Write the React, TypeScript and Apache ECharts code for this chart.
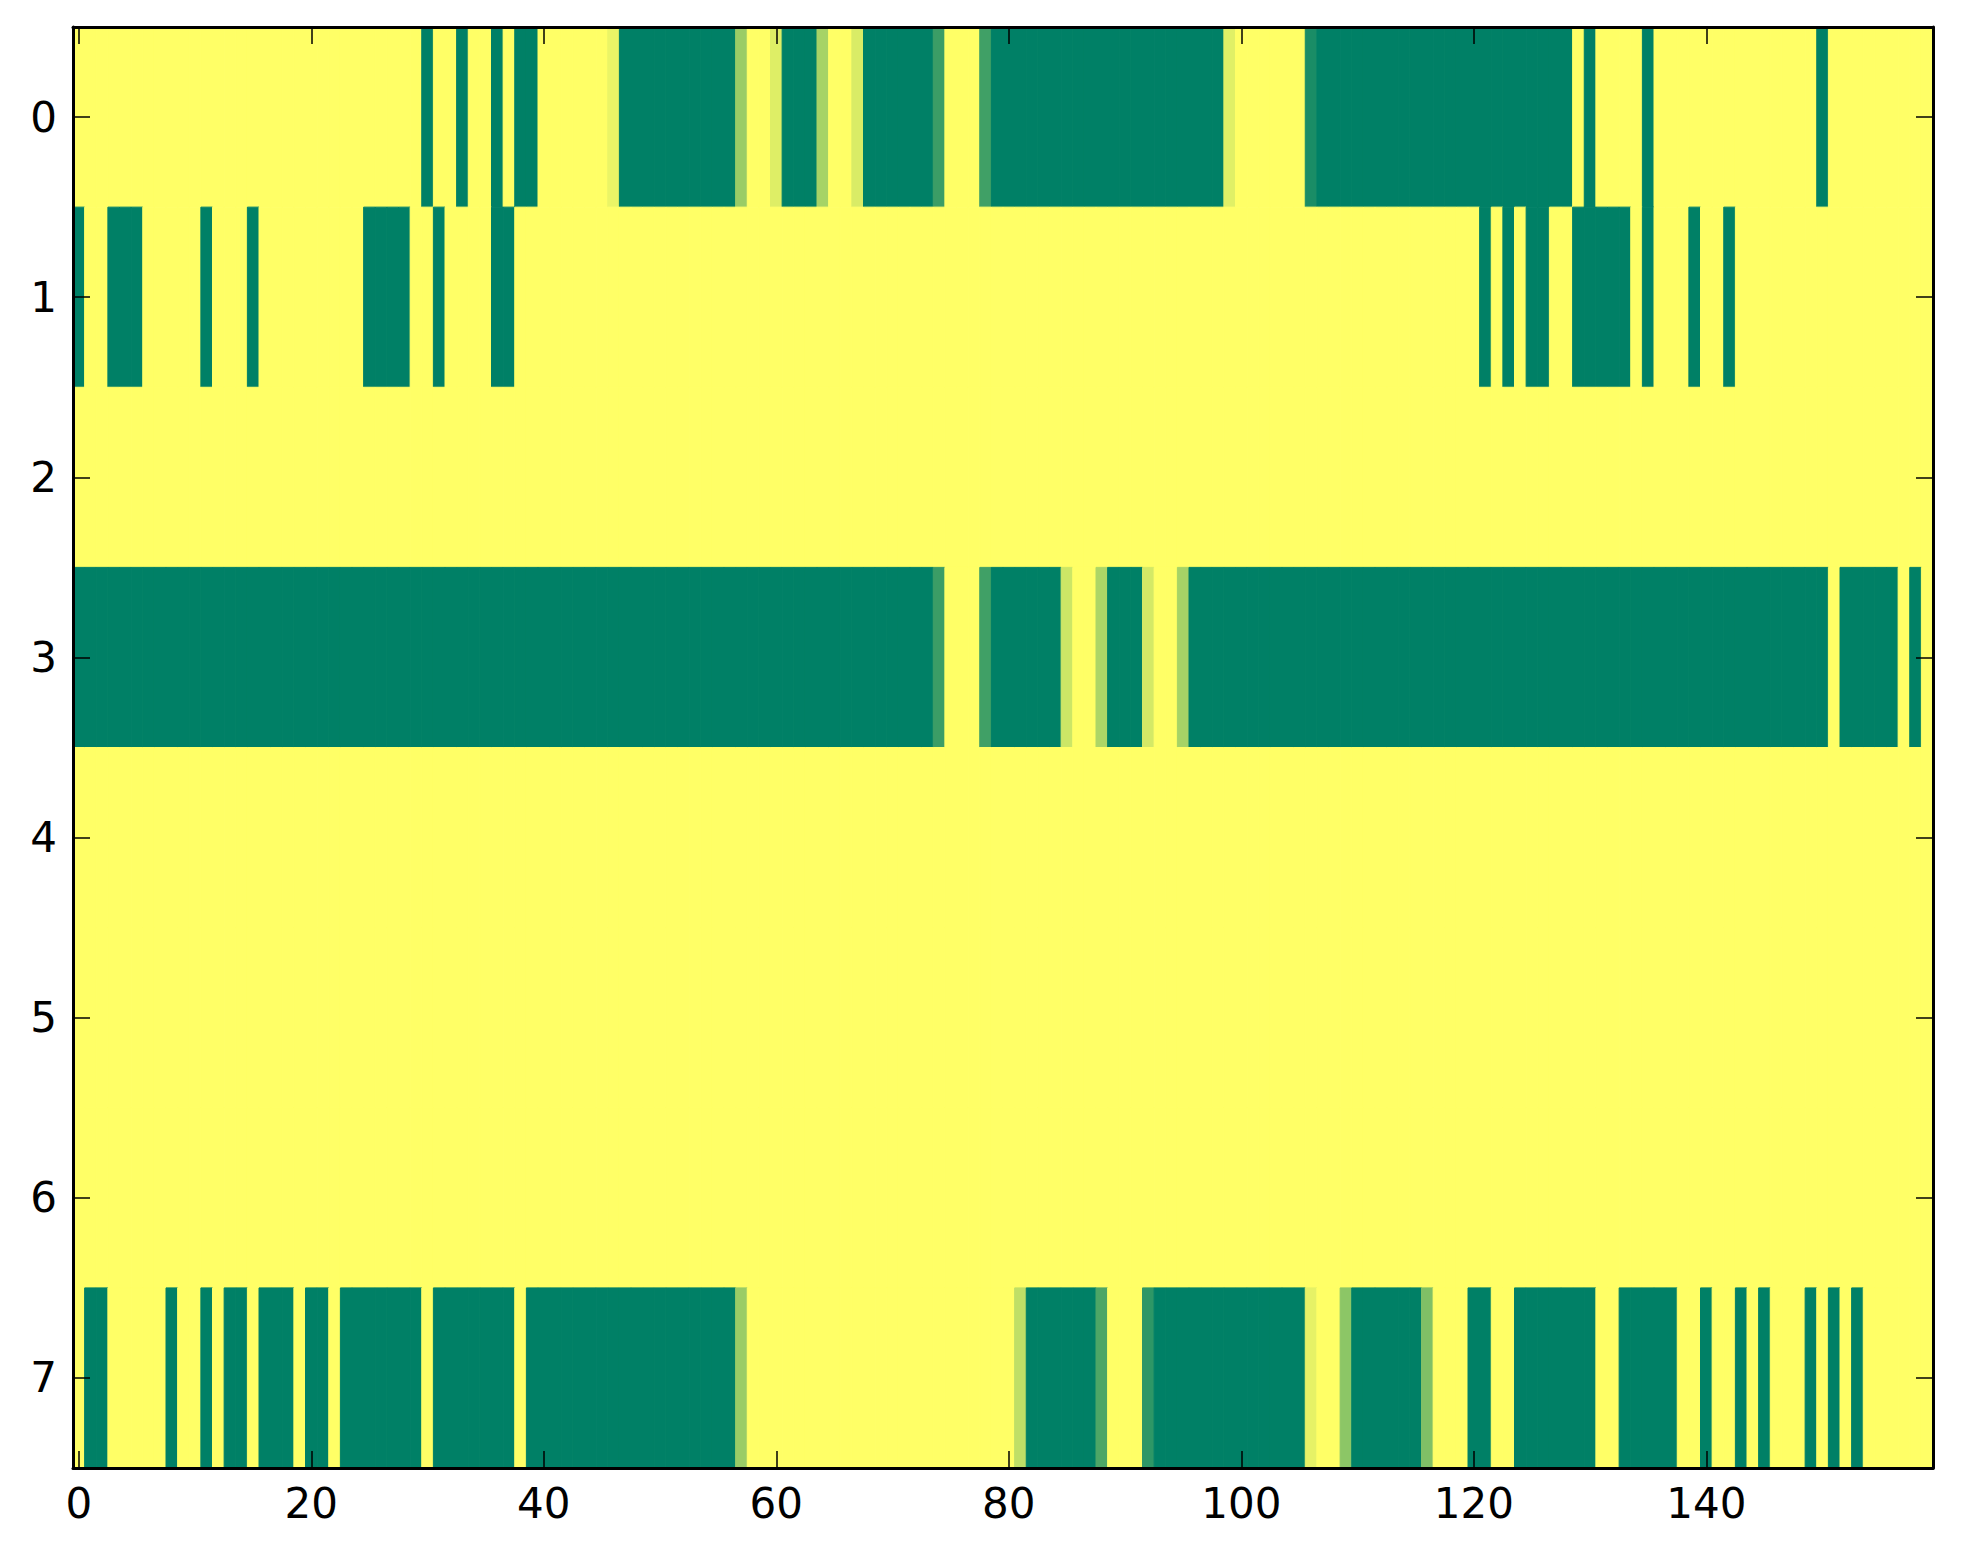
import React, { useEffect, useRef } from "react";
import * as echarts from "echarts";

const X_CATEGORIES: string[] = Array.from({ length: 160 }, (_, i) => String(i));
const Y_CATEGORIES: string[] = ["0", "1", "2", "3", "4", "5", "6", "7"];

const ROW_0: number[] = [
  0, 0, 0, 0, 0, 0, 0, 0, 0, 0, 0, 0, 0, 0, 0, 0, 0, 0, 0, 0,
  0, 0, 0, 0, 0, 0, 0, 0, 0, 0, 1, 0, 0, 1, 0, 0, 1, 0, 1, 1,
  0, 0, 0, 0, 0, 0, 0.08, 1, 1, 1, 1, 1, 1, 1, 1, 1, 1, 0.4, 0, 0,
  0.13, 1, 1, 1, 0.35, 0, 0, 0.15, 1, 1, 1, 1, 1, 1, 0.77, 0, 0, 0, 0.75, 1,
  1, 1, 1, 1, 1, 1, 1, 1, 1, 1, 1, 1, 1, 1, 1, 1, 1, 1, 1, 0.12,
  0, 0, 0, 0, 0, 0, 0.9, 1, 1, 1, 1, 1, 1, 1, 1, 1, 1, 1, 1, 1,
  1, 1, 1, 1, 1, 1, 1, 1, 1, 0, 1, 0, 0, 0, 0, 1, 0, 0, 0, 0,
  0, 0, 0, 0, 0, 0, 0, 0, 0, 0, 1, 0, 0, 0, 0, 0, 0, 0, 0, 0,
];

const ROW_1: number[] = [
  1, 0, 0, 1, 1, 1, 0, 0, 0, 0, 0, 1, 0, 0, 0, 1, 0, 0, 0, 0,
  0, 0, 0, 0, 0, 1, 1, 1, 1, 0, 0, 1, 0, 0, 0, 0, 1, 1, 0, 0,
  0, 0, 0, 0, 0, 0, 0, 0, 0, 0, 0, 0, 0, 0, 0, 0, 0, 0, 0, 0,
  0, 0, 0, 0, 0, 0, 0, 0, 0, 0, 0, 0, 0, 0, 0, 0, 0, 0, 0, 0,
  0, 0, 0, 0, 0, 0, 0, 0, 0, 0, 0, 0, 0, 0, 0, 0, 0, 0, 0, 0,
  0, 0, 0, 0, 0, 0, 0, 0, 0, 0, 0, 0, 0, 0, 0, 0, 0, 0, 0, 0,
  0, 1, 0, 1, 0, 1, 1, 0, 0, 1, 1, 1, 1, 1, 0, 1, 0, 0, 0, 1,
  0, 0, 1, 0, 0, 0, 0, 0, 0, 0, 0, 0, 0, 0, 0, 0, 0, 0, 0, 0,
];

const ROW_2: number[] = [
  0, 0, 0, 0, 0, 0, 0, 0, 0, 0, 0, 0, 0, 0, 0, 0, 0, 0, 0, 0,
  0, 0, 0, 0, 0, 0, 0, 0, 0, 0, 0, 0, 0, 0, 0, 0, 0, 0, 0, 0,
  0, 0, 0, 0, 0, 0, 0, 0, 0, 0, 0, 0, 0, 0, 0, 0, 0, 0, 0, 0,
  0, 0, 0, 0, 0, 0, 0, 0, 0, 0, 0, 0, 0, 0, 0, 0, 0, 0, 0, 0,
  0, 0, 0, 0, 0, 0, 0, 0, 0, 0, 0, 0, 0, 0, 0, 0, 0, 0, 0, 0,
  0, 0, 0, 0, 0, 0, 0, 0, 0, 0, 0, 0, 0, 0, 0, 0, 0, 0, 0, 0,
  0, 0, 0, 0, 0, 0, 0, 0, 0, 0, 0, 0, 0, 0, 0, 0, 0, 0, 0, 0,
  0, 0, 0, 0, 0, 0, 0, 0, 0, 0, 0, 0, 0, 0, 0, 0, 0, 0, 0, 0,
];

const ROW_3: number[] = [
  1, 1, 1, 1, 1, 1, 1, 1, 1, 1, 1, 1, 1, 1, 1, 1, 1, 1, 1, 1,
  1, 1, 1, 1, 1, 1, 1, 1, 1, 1, 1, 1, 1, 1, 1, 1, 1, 1, 1, 1,
  1, 1, 1, 1, 1, 1, 1, 1, 1, 1, 1, 1, 1, 1, 1, 1, 1, 1, 1, 1,
  1, 1, 1, 1, 1, 1, 1, 1, 1, 1, 1, 1, 1, 1, 0.77, 0, 0, 0, 0.75, 1,
  1, 1, 1, 1, 1, 0.2, 0, 0, 0.32, 1, 1, 1, 0.17, 0, 0, 0.35, 1, 1, 1, 1,
  1, 1, 1, 1, 1, 1, 1, 1, 1, 1, 1, 1, 1, 1, 1, 1, 1, 1, 1, 1,
  1, 1, 1, 1, 1, 1, 1, 1, 1, 1, 1, 1, 1, 1, 1, 1, 1, 1, 1, 1,
  1, 1, 1, 1, 1, 1, 1, 1, 1, 1, 1, 0, 1, 1, 1, 1, 1, 0, 1, 0,
];

const ROW_4: number[] = [
  0, 0, 0, 0, 0, 0, 0, 0, 0, 0, 0, 0, 0, 0, 0, 0, 0, 0, 0, 0,
  0, 0, 0, 0, 0, 0, 0, 0, 0, 0, 0, 0, 0, 0, 0, 0, 0, 0, 0, 0,
  0, 0, 0, 0, 0, 0, 0, 0, 0, 0, 0, 0, 0, 0, 0, 0, 0, 0, 0, 0,
  0, 0, 0, 0, 0, 0, 0, 0, 0, 0, 0, 0, 0, 0, 0, 0, 0, 0, 0, 0,
  0, 0, 0, 0, 0, 0, 0, 0, 0, 0, 0, 0, 0, 0, 0, 0, 0, 0, 0, 0,
  0, 0, 0, 0, 0, 0, 0, 0, 0, 0, 0, 0, 0, 0, 0, 0, 0, 0, 0, 0,
  0, 0, 0, 0, 0, 0, 0, 0, 0, 0, 0, 0, 0, 0, 0, 0, 0, 0, 0, 0,
  0, 0, 0, 0, 0, 0, 0, 0, 0, 0, 0, 0, 0, 0, 0, 0, 0, 0, 0, 0,
];

const ROW_5: number[] = [
  0, 0, 0, 0, 0, 0, 0, 0, 0, 0, 0, 0, 0, 0, 0, 0, 0, 0, 0, 0,
  0, 0, 0, 0, 0, 0, 0, 0, 0, 0, 0, 0, 0, 0, 0, 0, 0, 0, 0, 0,
  0, 0, 0, 0, 0, 0, 0, 0, 0, 0, 0, 0, 0, 0, 0, 0, 0, 0, 0, 0,
  0, 0, 0, 0, 0, 0, 0, 0, 0, 0, 0, 0, 0, 0, 0, 0, 0, 0, 0, 0,
  0, 0, 0, 0, 0, 0, 0, 0, 0, 0, 0, 0, 0, 0, 0, 0, 0, 0, 0, 0,
  0, 0, 0, 0, 0, 0, 0, 0, 0, 0, 0, 0, 0, 0, 0, 0, 0, 0, 0, 0,
  0, 0, 0, 0, 0, 0, 0, 0, 0, 0, 0, 0, 0, 0, 0, 0, 0, 0, 0, 0,
  0, 0, 0, 0, 0, 0, 0, 0, 0, 0, 0, 0, 0, 0, 0, 0, 0, 0, 0, 0,
];

const ROW_6: number[] = [
  0, 0, 0, 0, 0, 0, 0, 0, 0, 0, 0, 0, 0, 0, 0, 0, 0, 0, 0, 0,
  0, 0, 0, 0, 0, 0, 0, 0, 0, 0, 0, 0, 0, 0, 0, 0, 0, 0, 0, 0,
  0, 0, 0, 0, 0, 0, 0, 0, 0, 0, 0, 0, 0, 0, 0, 0, 0, 0, 0, 0,
  0, 0, 0, 0, 0, 0, 0, 0, 0, 0, 0, 0, 0, 0, 0, 0, 0, 0, 0, 0,
  0, 0, 0, 0, 0, 0, 0, 0, 0, 0, 0, 0, 0, 0, 0, 0, 0, 0, 0, 0,
  0, 0, 0, 0, 0, 0, 0, 0, 0, 0, 0, 0, 0, 0, 0, 0, 0, 0, 0, 0,
  0, 0, 0, 0, 0, 0, 0, 0, 0, 0, 0, 0, 0, 0, 0, 0, 0, 0, 0, 0,
  0, 0, 0, 0, 0, 0, 0, 0, 0, 0, 0, 0, 0, 0, 0, 0, 0, 0, 0, 0,
];

const ROW_7: number[] = [
  0, 1, 1, 0, 0, 0, 0, 0, 1, 0, 0, 1, 0, 1, 1, 0, 1, 1, 1, 0,
  1, 1, 0, 1, 1, 1, 1, 1, 1, 1, 0, 1, 1, 1, 1, 1, 1, 1, 0, 1,
  1, 1, 1, 1, 1, 1, 1, 1, 1, 1, 1, 1, 1, 1, 1, 1, 1, 0.4, 0, 0,
  0, 0, 0, 0, 0, 0, 0, 0, 0, 0, 0, 0, 0, 0, 0, 0, 0, 0, 0, 0,
  0, 0.25, 1, 1, 1, 1, 1, 1, 0.7, 0, 0, 0, 0.82, 1, 1, 1, 1, 1, 1, 1,
  1, 1, 1, 1, 1, 1, 0.1, 0, 0, 0.45, 1, 1, 1, 1, 1, 1, 0.5, 0, 0, 0,
  1, 1, 0, 0, 1, 1, 1, 1, 1, 1, 1, 0, 0, 1, 1, 1, 1, 1, 0, 0,
  1, 0, 0, 1, 0, 1, 0, 0, 0, 1, 0, 1, 0, 1, 0, 0, 0, 0, 0, 0,
];

const ROWS: number[][] = [ROW_0, ROW_1, ROW_2, ROW_3, ROW_4, ROW_5, ROW_6, ROW_7];

const FONT = "DejaVu Sans";

export default function App() {
  const ref = useRef<HTMLDivElement>(null);

  useEffect(() => {
    if (!ref.current) return;
    const chart = echarts.init(ref.current, null, { renderer: "svg" });

    const cells: number[][] = [];
    ROWS.forEach((row, y) => {
      row.forEach((v, x) => {
        cells.push([x, y, v]);
      });
    });

    const axisLine = { show: true, lineStyle: { color: "#000", width: 3 } };
    const tickStyle = { color: "#000", width: 1.5 };

    const option: any = {
      animation: false,
      backgroundColor: "#fff",
      grid: { left: 73, right: 30, top: 27, bottom: 96, containLabel: false },
      visualMap: {
        type: "continuous",
        show: false,
        min: 0,
        max: 1,
        dimension: 2,
        seriesIndex: 0,
        inRange: { color: ["#ffff66", "#008066"] },
      },
      xAxis: [
        {
          type: "category",
          data: X_CATEGORIES,
          position: "bottom",
          boundaryGap: true,
          z: 10,
          axisLine,
          axisTick: { show: true, inside: true, length: 17, interval: 19, alignWithLabel: true, lineStyle: tickStyle },
          axisLabel: { interval: 19, fontSize: 42, color: "#000", fontFamily: FONT, margin: 14 },
          splitLine: { show: false },
        },
        {
          type: "category",
          data: X_CATEGORIES,
          position: "top",
          boundaryGap: true,
          z: 10,
          axisLine,
          axisTick: { show: true, inside: true, length: 17, interval: 19, alignWithLabel: true, lineStyle: tickStyle },
          axisLabel: { show: false },
          splitLine: { show: false },
        },
      ],
      yAxis: [
        {
          type: "category",
          data: Y_CATEGORIES,
          inverse: true,
          position: "left",
          boundaryGap: true,
          z: 10,
          axisLine,
          axisTick: { show: true, inside: true, length: 17, interval: 0, alignWithLabel: true, lineStyle: tickStyle },
          axisLabel: { interval: 0, fontSize: 42, color: "#000", fontFamily: FONT, margin: 16 },
          splitLine: { show: false },
        },
        {
          type: "category",
          data: Y_CATEGORIES,
          inverse: true,
          position: "right",
          boundaryGap: true,
          z: 10,
          axisLine,
          axisTick: { show: true, inside: true, length: 17, interval: 0, alignWithLabel: true, lineStyle: tickStyle },
          axisLabel: { show: false },
          splitLine: { show: false },
        },
      ],
      series: [
        {
          type: "custom",
          xAxisIndex: 0,
          yAxisIndex: 0,
          clip: true,
          encode: { x: 0, y: 1 },
          data: cells,
          renderItem: (_params: any, api: any) => {
            const c = api.coord([api.value(0), api.value(1)]);
            const s = api.size([1, 1]);
            const color = api.visual("color");
            return {
              type: "rect",
              shape: { x: c[0] - s[0] / 2, y: c[1] - s[1] / 2, width: s[0], height: s[1] },
              style: { fill: color, stroke: color, lineWidth: 1 },
            };
          },
        },
      ],
    };

    chart.setOption(option);
    return () => chart.dispose();
  }, []);

  return (
    <div
      ref={ref}
      style={{ position: "absolute", left: 0, top: 0, width: 1963, height: 1564, background: "#fff" }}
    />
  );
}
